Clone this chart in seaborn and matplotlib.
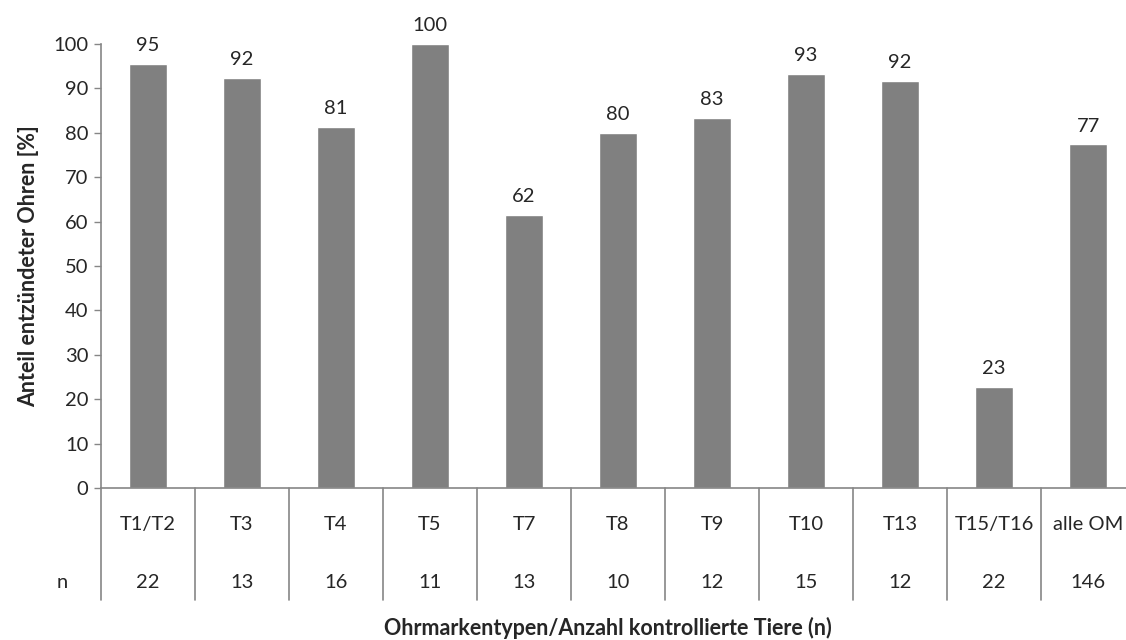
import numpy as np
import pandas as pd
import seaborn as sns
import matplotlib.pyplot as plt

# Daten
kategorien = ['T1/T2', 'T3', 'T4', 'T5', 'T7', 'T8', 'T9', 'T10', 'T13', 'T15/T16', 'alle OM']
anteil = [95.5, 92.3, 81.3, 100.0, 61.5, 80.0, 83.3, 93.3, 91.7, 22.7, 77.4]
anteil_label = ['95', '92', '81', '100', '62', '80', '83', '93', '92', '23', '77']
anzahl = ['22', '13', '16', '11', '13', '10', '12', '15', '12', '22', '146']

df = pd.DataFrame({'typ': kategorien, 'anteil': anteil})

sns.set_style('white')
plt.rcParams['font.family'] = ['Lato', 'DejaVu Sans']

grau = '#868686'
fs = 14.5

fig = plt.figure(figsize=(11.26, 6.4), dpi=100)
ax = fig.add_axes([101 / 1126, 152 / 640, 1034 / 1126, 444 / 640])

sns.barplot(data=df, x='typ', y='anteil', color='#808080', saturation=1,
            width=0.4, ax=ax)

ax.bar_label(ax.containers[0], labels=anteil_label, padding=7, fontsize=fs,
             clip_on=False)

ax.set_xlim(-0.5, 10.5)
ax.set_ylim(0, 100)
ax.set_yticks(np.arange(0, 101, 10))
ax.tick_params(axis='y', length=5, width=1, color=grau, labelsize=fs, pad=4,
               left=True)
ax.set_xticks([])
ax.set_xlabel('')

for s in ['top', 'right']:
    ax.spines[s].set_visible(False)
for s in ['left', 'bottom']:
    ax.spines[s].set_color(grau)
    ax.spines[s].set_linewidth(1.2)

ax.set_ylabel('Anteil entzündeter Ohren [%]', fontsize=15.5, fontweight='bold',
              labelpad=10)

# Tabelle unter der Achse
trans = ax.get_xaxis_transform()
for i in range(len(kategorien) + 1):
    ax.plot([i - 0.5, i - 0.5], [0, -0.252], transform=trans, color=grau,
            lw=1.2, clip_on=False)
for i, (k, n) in enumerate(zip(kategorien, anzahl)):
    ax.text(i, -0.083, k, transform=trans, ha='center', va='center', fontsize=fs)
    ax.text(i, -0.212, n, transform=trans, ha='center', va='center', fontsize=fs)
ax.text(-0.915, -0.212, 'n', transform=trans, ha='center', va='center', fontsize=fs)

ax.text(0.49, -0.316, 'Ohrmarkentypen/Anzahl kontrollierte Tiere (n)',
        transform=ax.transAxes, ha='center', va='center', fontsize=15.5,
        fontweight='bold')

fig.savefig('out.png', dpi=100)
